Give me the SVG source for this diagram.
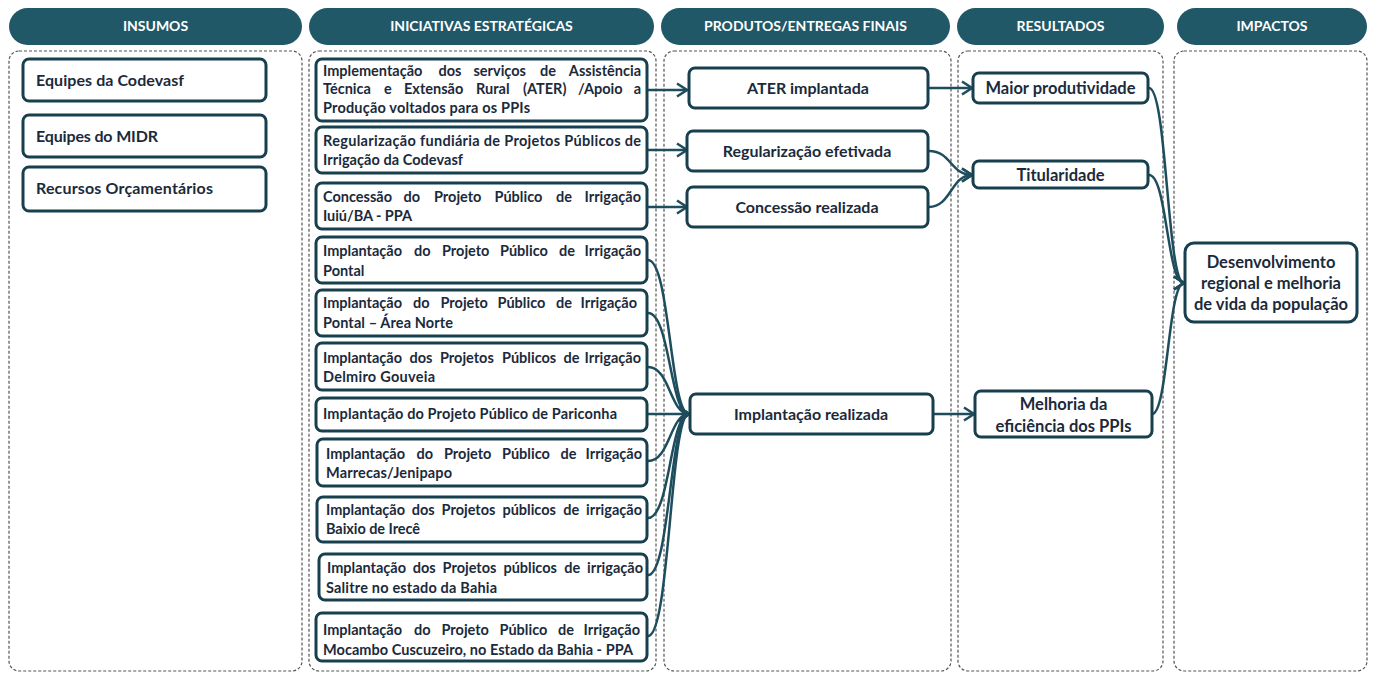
<svg xmlns="http://www.w3.org/2000/svg" width="1374" height="673" viewBox="0 0 1374 673">
<style>
.hdr{fill:#215868}
.hdrt{fill:#ffffff;font-family:Lato,"Liberation Sans",sans-serif;font-weight:bold;font-size:14px;text-anchor:middle}
.cont{fill:none;stroke:#555;stroke-width:1.2;stroke-dasharray:3 2}
.box{fill:#ffffff;stroke:#173f4d;stroke-width:3}
.t{fill:#1b2a3b;font-family:Lato,"Liberation Sans",sans-serif;font-weight:bold;font-size:14.5px}
.e{text-anchor:end}
.tb{fill:#1b2a3b;font-family:Lato,"Liberation Sans",sans-serif;font-weight:bold;font-size:16px}
.tc{fill:#1b2a3b;font-family:Lato,"Liberation Sans",sans-serif;font-weight:bold;font-size:16px;text-anchor:middle}
.tr{fill:#1b2a3b;font-family:Lato,"Liberation Sans",sans-serif;font-weight:bold;font-size:16.5px;text-anchor:middle}
.c{fill:none;stroke:#1e4d5d;stroke-width:2.5}
</style>
<defs>
<marker id="ah" markerUnits="userSpaceOnUse" markerWidth="14" markerHeight="16" viewBox="0 0 14 16" refX="12" refY="8" orient="auto">
<path d="M2,1.5 L12,8 L2,14.5" fill="none" stroke="#1e4d5d" stroke-width="2.5"/>
</marker>
</defs>
<rect width="1374" height="673" fill="#ffffff"/>

<g id="headers">
<rect class="hdr" x="9" y="8" width="293" height="37" rx="18.5"/>
<text class="hdrt" x="155.5" y="31">INSUMOS</text>
<rect class="hdr" x="309" y="8" width="345" height="37" rx="18.5"/>
<text class="hdrt" x="481.5" y="31">INICIATIVAS ESTRATÉGICAS</text>
<rect class="hdr" x="661" y="8" width="289" height="37" rx="18.5"/>
<text class="hdrt" x="805.5" y="31">PRODUTOS/ENTREGAS FINAIS</text>
<rect class="hdr" x="957" y="8" width="207" height="37" rx="18.5"/>
<text class="hdrt" x="1060.5" y="31">RESULTADOS</text>
<rect class="hdr" x="1177" y="8" width="190" height="37" rx="18.5"/>
<text class="hdrt" x="1272" y="31">IMPACTOS</text>
</g>

<g id="containers">
<rect class="cont" x="9" y="51" width="293" height="620" rx="10"/>
<rect class="cont" x="309" y="51" width="347" height="620" rx="10"/>
<rect class="cont" x="664" y="51" width="287" height="620" rx="10"/>
<rect class="cont" x="958" y="51" width="205" height="620" rx="10"/>
<rect class="cont" x="1174" y="51" width="193" height="620" rx="10"/>
</g>

<g id="connectors">
<path class="c" d="M647,90 L687,90" marker-end="url(#ah)"/>
<path class="c" d="M647,150 L687,150" marker-end="url(#ah)"/>
<path class="c" d="M647,207 L687,207" marker-end="url(#ah)"/>
<path class="c" d="M648,260 C670,260 670,414 689,414" marker-end="url(#ah)"/>
<path class="c" d="M648,313 C670,313 670,414 689,414" marker-end="url(#ah)"/>
<path class="c" d="M648,367 C670,367 670,414 689,414" marker-end="url(#ah)"/>
<path class="c" d="M648,414 L689,414" marker-end="url(#ah)"/>
<path class="c" d="M648,461 C670,461 670,414 689,414" marker-end="url(#ah)"/>
<path class="c" d="M648,518 C670,518 670,414 689,414" marker-end="url(#ah)"/>
<path class="c" d="M648,575 C670,575 670,414 689,414" marker-end="url(#ah)"/>
<path class="c" d="M648,636 C670,636 670,414 689,414" marker-end="url(#ah)"/>
<path class="c" d="M928,88 L972,88" marker-end="url(#ah)"/>
<path class="c" d="M929,151 C951,151 951,175 972,175" marker-end="url(#ah)"/>
<path class="c" d="M929,207 C951,207 951,175 972,175" marker-end="url(#ah)"/>
<path class="c" d="M934,414 L974,414" marker-end="url(#ah)"/>
<path class="c" d="M1149,88 C1167,88 1167,283 1184,283" marker-end="url(#ah)"/>
<path class="c" d="M1149,175 C1167,175 1167,283 1184,283" marker-end="url(#ah)"/>
<path class="c" d="M1152,414 C1168,414 1168,283 1184,283" marker-end="url(#ah)"/>
</g>

<g id="insumo1"><rect class="box" x="23" y="59" width="243" height="42" rx="6"/><text class="tb" x="36" y="86" textLength="148" lengthAdjust="spacing">Equipes da Codevasf</text></g>
<g id="insumo2"><rect class="box" x="23" y="115" width="243" height="42" rx="6"/><text class="tb" x="36" y="142" textLength="122" lengthAdjust="spacing">Equipes do MIDR</text></g>
<g id="insumo3"><rect class="box" x="23" y="167" width="243" height="44" rx="6"/><text class="tb" x="36" y="194" textLength="177" lengthAdjust="spacing">Recursos Orçamentários</text></g>

<g id="ini1"><rect class="box" x="316" y="59" width="331" height="62" rx="6"/>
<text class="t" y="76"><tspan x="323">Implementação</tspan> <tspan x="438.5">dos</tspan> <tspan x="473.5">serviços</tspan> <tspan x="540">de</tspan> <tspan class="e" x="641">Assistência</tspan></text>
<text class="t" y="94"><tspan x="323">Técnica</tspan> <tspan x="384">e</tspan> <tspan x="404">Extensão</tspan> <tspan x="476">Rural</tspan> <tspan x="523">(ATER)</tspan> <tspan x="578">/Apoio</tspan> <tspan class="e" x="641">a</tspan></text>
<text class="t" x="323" y="113" textLength="207" lengthAdjust="spacing">Produção voltados para os PPIs</text></g>
<g id="ini2"><rect class="box" x="316" y="127" width="331" height="46" rx="6"/>
<text class="t" x="323" y="146" textLength="318" lengthAdjust="spacing">Regularização fundiária de Projetos Públicos de</text>
<text class="t" x="323" y="165" textLength="140" lengthAdjust="spacing">Irrigação da Codevasf</text></g>
<g id="ini3"><rect class="box" x="316" y="183" width="331" height="46" rx="6"/>
<text class="t" y="202"><tspan x="323">Concessão</tspan> <tspan x="403.5">do</tspan> <tspan x="434">Projeto</tspan> <tspan x="494.5">Público</tspan> <tspan x="556">de</tspan> <tspan class="e" x="641">Irrigação</tspan></text>
<text class="t" x="323" y="221" textLength="89" lengthAdjust="spacing">Iuiú/BA - PPA</text></g>
<g id="ini4"><rect class="box" x="316" y="237" width="331" height="46" rx="6"/>
<text class="t" y="256"><tspan x="323">Implantação</tspan> <tspan x="414">do</tspan> <tspan x="442">Projeto</tspan> <tspan x="500">Público</tspan> <tspan x="559">de</tspan> <tspan class="e" x="641">Irrigação</tspan></text>
<text class="t" x="323" y="276">Pontal</text></g>
<g id="ini5"><rect class="box" x="316" y="290" width="331" height="46" rx="6"/>
<text class="t" y="308"><tspan x="323">Implantação</tspan> <tspan x="413">do</tspan> <tspan x="440.5">Projeto</tspan> <tspan x="497.5">Público</tspan> <tspan x="556">de</tspan> <tspan class="e" x="637">Irrigação</tspan></text>
<text class="t" x="323" y="328" textLength="130" lengthAdjust="spacing">Pontal – Área Norte</text></g>
<g id="ini6"><rect class="box" x="316" y="343" width="331" height="47" rx="6"/>
<text class="t" y="363"><tspan x="323">Implantação</tspan> <tspan x="409.5">dos</tspan> <tspan x="440">Projetos</tspan> <tspan x="502">Públicos</tspan> <tspan x="563.5">de</tspan> <tspan class="e" x="641">Irrigação</tspan></text>
<text class="t" x="323" y="382" textLength="112" lengthAdjust="spacing">Delmiro Gouveia</text></g>
<g id="ini7"><rect class="box" x="316" y="398" width="331" height="33" rx="6"/>
<text class="t" x="323" y="419" textLength="294" lengthAdjust="spacing">Implantação do Projeto Público de Pariconha</text></g>
<g id="ini8"><rect class="box" x="317" y="439" width="330" height="47" rx="6"/>
<text class="t" y="459"><tspan x="326">Implantação</tspan> <tspan x="416.5">do</tspan> <tspan x="444">Projeto</tspan> <tspan x="502">Público</tspan> <tspan x="560.5">de</tspan> <tspan class="e" x="642">Irrigação</tspan></text>
<text class="t" x="326" y="478" textLength="126" lengthAdjust="spacing">Marrecas/Jenipapo</text></g>
<g id="ini9"><rect class="box" x="317" y="497" width="330" height="45" rx="6"/>
<text class="t" y="515"><tspan x="326">Implantação</tspan> <tspan x="411.8">dos</tspan> <tspan x="441.6">Projetos</tspan> <tspan x="502.4">públicos</tspan> <tspan x="563.2">de</tspan> <tspan class="e" x="642">irrigação</tspan></text>
<text class="t" x="326" y="534" textLength="94" lengthAdjust="spacing">Baixio de Irecê</text></g>
<g id="ini10"><rect class="box" x="319" y="554" width="328" height="46" rx="6"/>
<text class="t" y="573"><tspan x="327">Implantação</tspan> <tspan x="412.8">dos</tspan> <tspan x="442.6">Projetos</tspan> <tspan x="503.4">públicos</tspan> <tspan x="564.2">de</tspan> <tspan class="e" x="643">irrigação</tspan></text>
<text class="t" x="326" y="593" textLength="171" lengthAdjust="spacing">Salitre no estado da Bahia</text></g>
<g id="ini11"><rect class="box" x="316" y="613" width="331" height="48" rx="6"/>
<text class="t" y="635"><tspan x="323">Implantação</tspan> <tspan x="414">do</tspan> <tspan x="441.5">Projeto</tspan> <tspan x="499.5">Público</tspan> <tspan x="558">de</tspan> <tspan class="e" x="640">Irrigação</tspan></text>
<text class="t" x="323" y="655" textLength="310" lengthAdjust="spacing">Mocambo Cuscuzeiro, no Estado da Bahia - PPA</text></g>

<g id="prod1"><rect class="box" x="689" y="68" width="239" height="40" rx="6"/><text class="tc" x="808" y="94">ATER implantada</text></g>
<g id="prod2"><rect class="box" x="687" y="131" width="241" height="40" rx="6"/><text class="tc" x="807" y="157">Regularização efetivada</text></g>
<g id="prod3"><rect class="box" x="687" y="187" width="241" height="40" rx="6"/><text class="tc" x="807" y="213">Concessão realizada</text></g>
<g id="prod4"><rect class="box" x="690" y="394" width="243" height="40" rx="6"/><text class="tc" x="811" y="420">Implantação realizada</text></g>

<g id="res1"><rect class="box" x="973" y="73" width="175" height="30" rx="6"/><text class="tr" x="1060.5" y="94">Maior produtividade</text></g>
<g id="res2"><rect class="box" x="973" y="161" width="175" height="27" rx="6"/><text class="tr" x="1060.5" y="181">Titularidade</text></g>
<g id="res3"><rect class="box" x="975" y="391" width="177" height="46" rx="6"/><text class="tr" x="1063.5" y="410">Melhoria da</text><text class="tr" x="1063.5" y="432">eficiência dos PPIs</text></g>

<g id="imp1"><rect class="box" x="1185" y="243" width="172" height="79" rx="9"/>
<text class="tr" x="1271" y="268">Desenvolvimento</text>
<text class="tr" x="1271" y="289">regional e melhoria</text>
<text class="tr" x="1271" y="310">de vida da população</text></g>
</svg>
